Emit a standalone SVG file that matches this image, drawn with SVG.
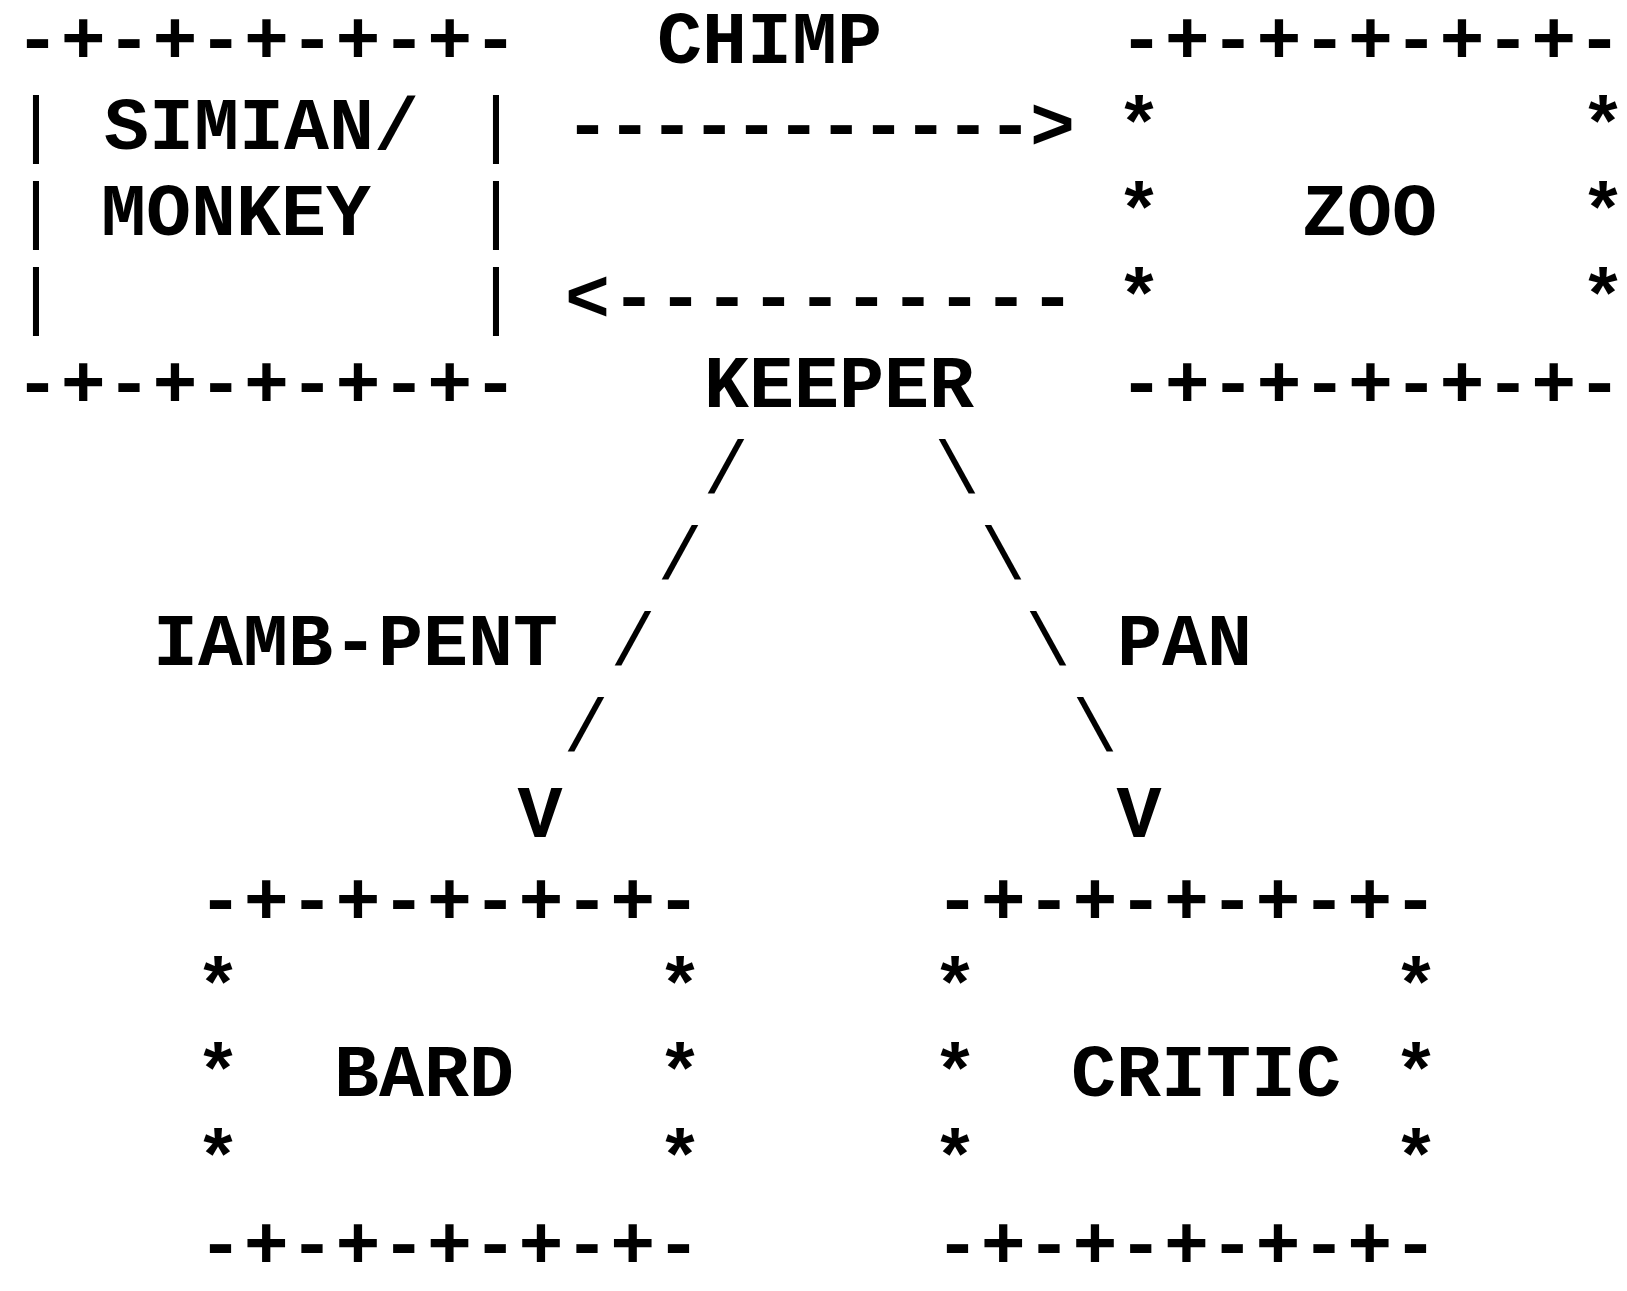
<svg xmlns="http://www.w3.org/2000/svg" width="1627" height="1291" viewBox="0 0 1627 1291">
<style>
text{font-family:'Liberation Mono','Courier New',monospace;font-size:75px;font-weight:bold;fill:#000;white-space:pre}
.c{text-anchor:middle}
.thin{font-weight:normal}
</style>
<rect width="1627" height="1291" fill="#fff"/>
<g id="connectors">
  <text x="657" y="63">CHIMP</text>
  <text x="565" y="149" textLength="510" lengthAdjust="spacing">-----------&gt;</text>
  <text x="565" y="321" textLength="510" lengthAdjust="spacing">&lt;----------</text>
  <text x="704" y="407">KEEPER</text>
  <text class="c thin" x="726" y="493">/</text>
  <text class="c thin" x="680" y="579">/</text>
  <text class="c thin" x="633" y="665">/</text>
  <text class="c thin" x="586" y="751">/</text>
  <text class="c" x="540" y="837">V</text>
  <text x="153" y="665">IAMB-PENT</text>
  <text class="c thin" x="957" y="493">\</text>
  <text class="c thin" x="1003" y="579">\</text>
  <text class="c thin" x="1048" y="665">\</text>
  <text class="c thin" x="1095" y="751">\</text>
  <text class="c" x="1139" y="837">V</text>
  <text x="1117" y="665">PAN</text>
</g>
<g id="monkey">
  <text x="15" y="63" textLength="503" lengthAdjust="spacing">-+-+-+-+-+-</text>
  <text class="c thin" x="36" y="149">|</text>
  <text class="c thin" x="36" y="235">|</text>
  <text class="c thin" x="36" y="321">|</text>
  <text class="c thin" x="496" y="149">|</text>
  <text class="c thin" x="496" y="235">|</text>
  <text class="c thin" x="496" y="321">|</text>
  <text x="104" y="149">SIMIAN/</text>
  <text x="101" y="235">MONKEY</text>
  <text x="15" y="407" textLength="503" lengthAdjust="spacing">-+-+-+-+-+-</text>
</g>
<g id="zoo">
  <text x="1119" y="63" textLength="503" lengthAdjust="spacing">-+-+-+-+-+-</text>
  <text class="c" x="1139" y="149">*</text>
  <text class="c" x="1139" y="235">*</text>
  <text class="c" x="1139" y="321">*</text>
  <text class="c" x="1603" y="149">*</text>
  <text class="c" x="1603" y="235">*</text>
  <text class="c" x="1603" y="321">*</text>
  <text x="1302" y="235">ZOO</text>
  <text x="1119" y="407" textLength="503" lengthAdjust="spacing">-+-+-+-+-+-</text>
</g>
<g id="bard">
  <text x="198" y="924" textLength="503" lengthAdjust="spacing">-+-+-+-+-+-</text>
  <text class="c" x="218" y="1010">*</text>
  <text class="c" x="218" y="1096">*</text>
  <text class="c" x="218" y="1182">*</text>
  <text class="c" x="680" y="1010">*</text>
  <text class="c" x="680" y="1096">*</text>
  <text class="c" x="680" y="1182">*</text>
  <text x="334" y="1096">BARD</text>
  <text x="198" y="1268" textLength="503" lengthAdjust="spacing">-+-+-+-+-+-</text>
</g>
<g id="critic">
  <text x="935" y="924" textLength="503" lengthAdjust="spacing">-+-+-+-+-+-</text>
  <text class="c" x="955" y="1010">*</text>
  <text class="c" x="955" y="1096">*</text>
  <text class="c" x="955" y="1182">*</text>
  <text class="c" x="1416" y="1010">*</text>
  <text class="c" x="1416" y="1096">*</text>
  <text class="c" x="1416" y="1182">*</text>
  <text x="1071" y="1096">CRITIC</text>
  <text x="935" y="1268" textLength="503" lengthAdjust="spacing">-+-+-+-+-+-</text>
</g>
</svg>
